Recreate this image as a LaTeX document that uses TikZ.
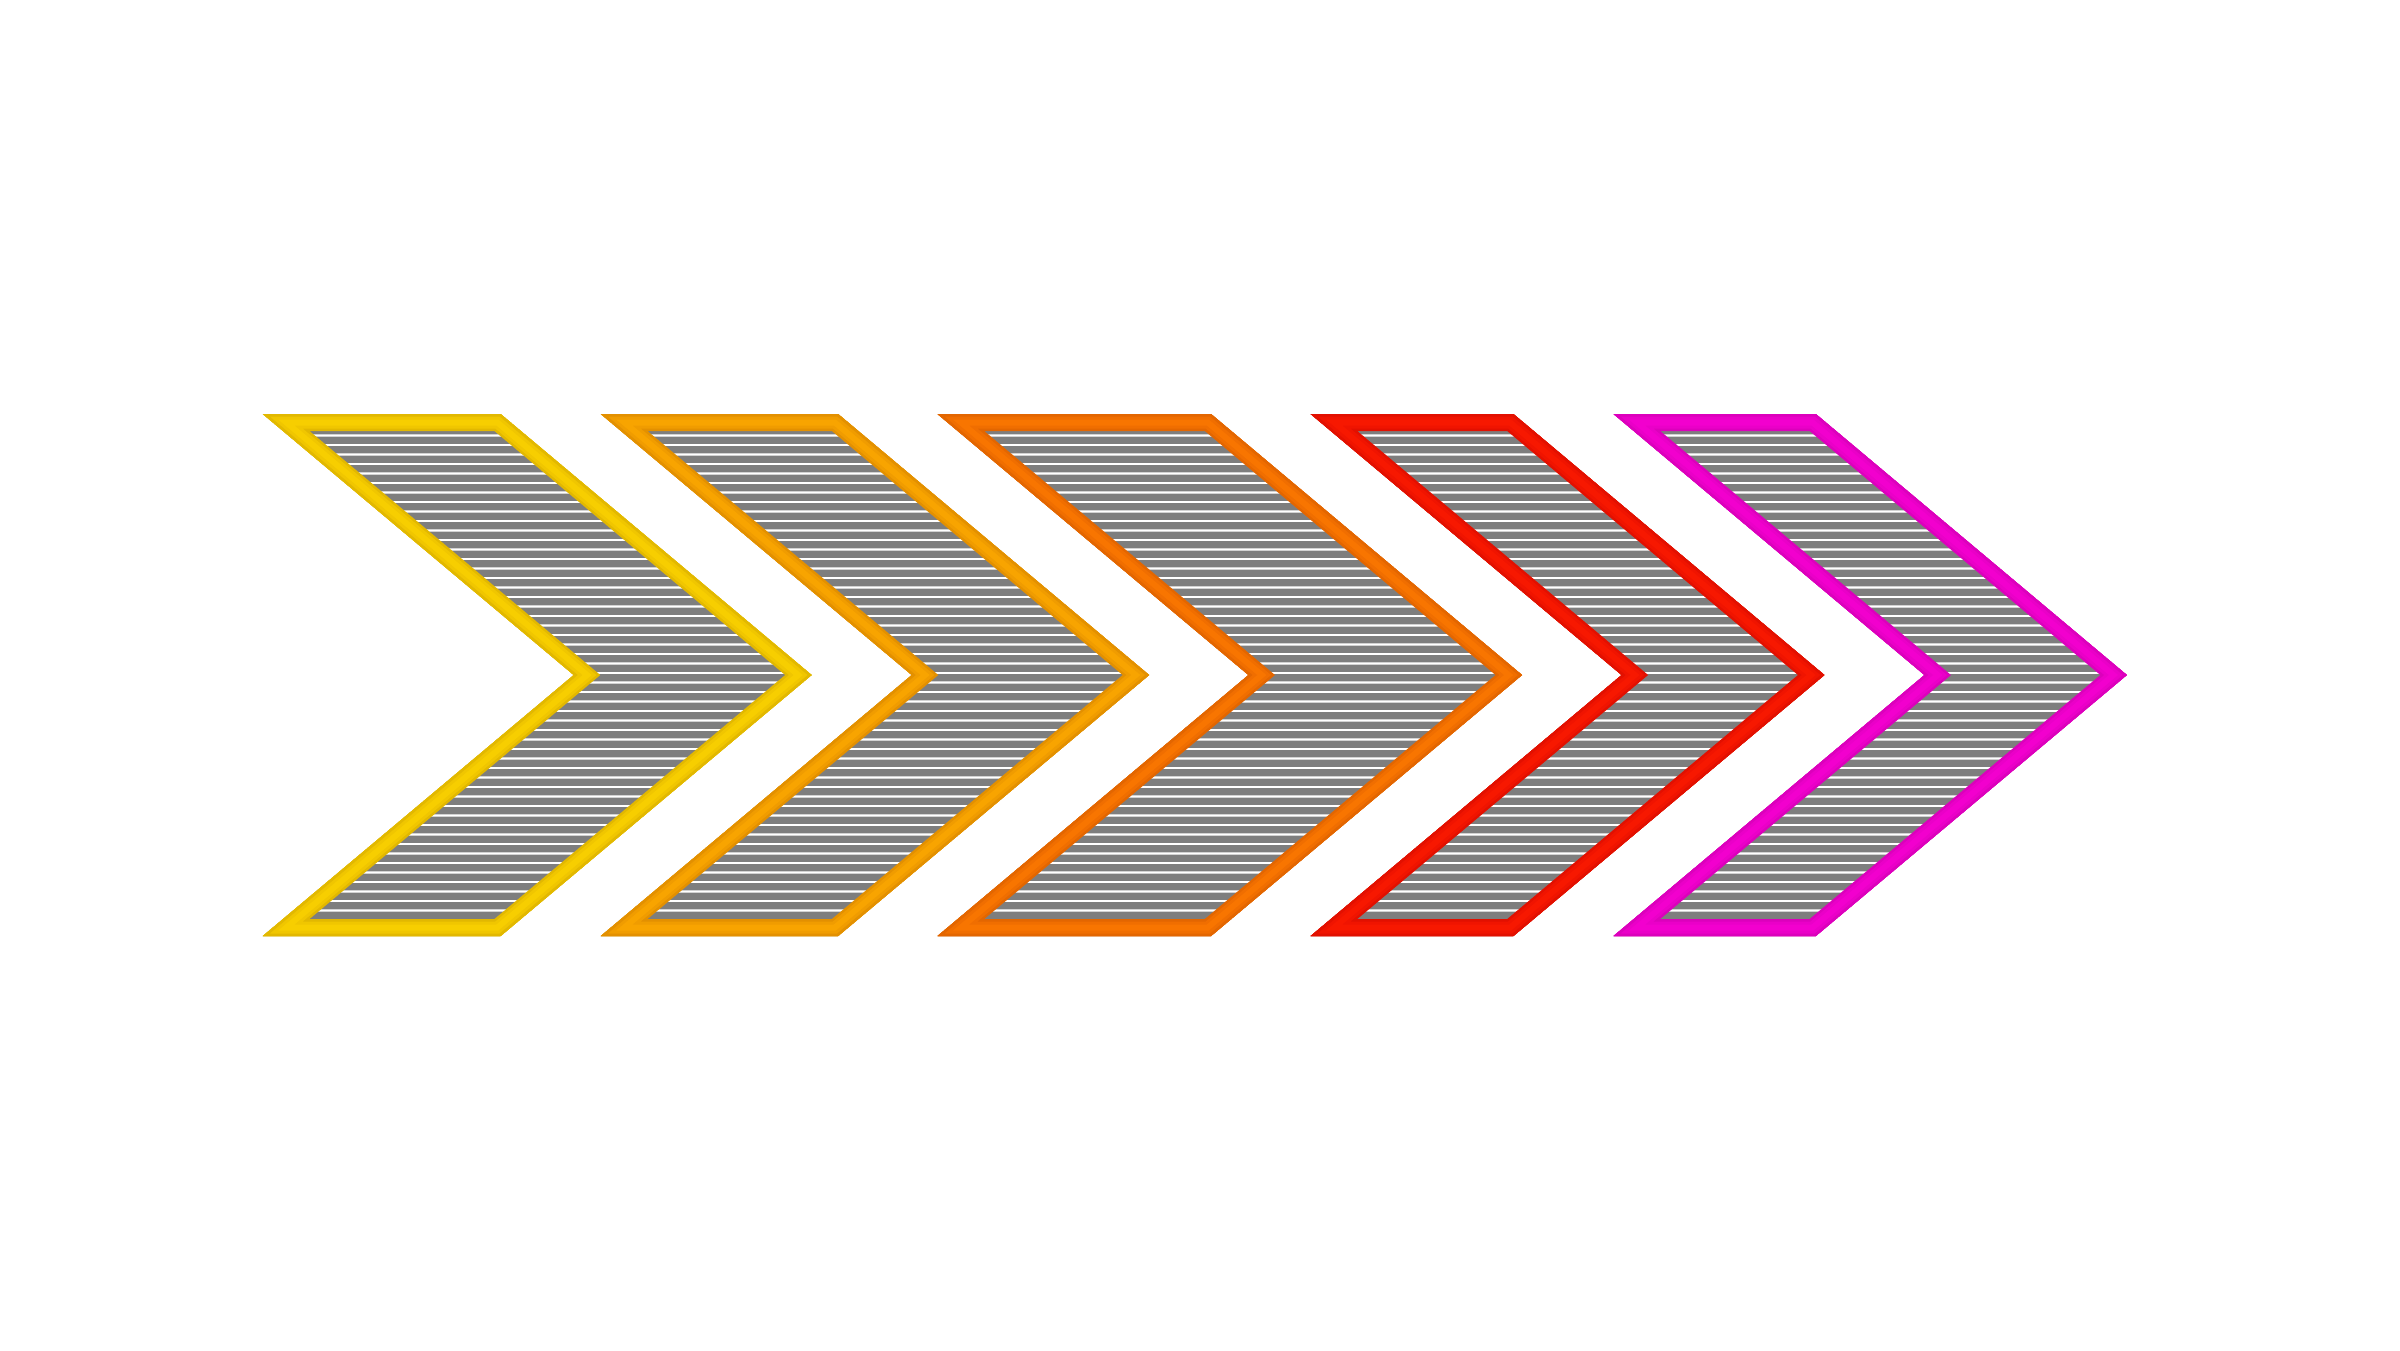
\documentclass[tikz,border=0pt]{standalone}
\definecolor{c1}{HTML}{F7CE00}\definecolor{c1m}{HTML}{F0C600}\definecolor{c1d}{HTML}{E2B800}
\definecolor{c2}{HTML}{F8A400}\definecolor{c2m}{HTML}{F09C00}\definecolor{c2d}{HTML}{E39000}
\definecolor{c3}{HTML}{F87500}\definecolor{c3m}{HTML}{F06E00}\definecolor{c3d}{HTML}{E36600}
\definecolor{c4}{HTML}{F71800}\definecolor{c4m}{HTML}{F01400}\definecolor{c4d}{HTML}{E21000}
\definecolor{c5}{HTML}{F200CE}\definecolor{c5m}{HTML}{EA00C8}\definecolor{c5d}{HTML}{DC00BC}
\definecolor{hatchgray}{HTML}{7E7E7E}
\tikzset{
  stripe/.style={draw=white, line width=0.016cm},
  stripehalo/.style={draw=hatchgray!35, line width=0.028cm},
  band/.style={line join=miter},
}
\newcommand\chevpath{(\L,414) -- ++(\W,0) -- ++(311,261) -- ++(-311,261) -- ++(-\W,0) -- ++(311,-261) -- cycle}
\begin{document}
\begin{tikzpicture}[x=0.01cm,y=-0.01cm]
\useasboundingbox[fill=white] (0,0) rectangle (2400,1350);
\foreach \L/\W/\cn in {262.8/237.8/1, 600.8/237.3/2, 937.5/273.5/3, 1310.6/202.8/4, 1613.5/202.3/5}{
  \begin{scope}
    \clip \chevpath;
    \fill[hatchgray] \chevpath;
    \foreach \k in {0,...,52}{
      \draw[stripehalo] (\L-10, 435.5+9.5*\k) -- ++(\W+340, 0);
      \draw[stripe] (\L-10, 435.5+9.5*\k) -- ++(\W+340, 0);
    }
    \draw[band, line width=0.34cm, draw=c\cn d] \chevpath;
    \draw[band, line width=0.29cm, draw=c\cn m] \chevpath;
    \draw[band, line width=0.23cm, draw=c\cn] \chevpath;
    \draw[band, line width=0.11cm, draw=c\cn m] \chevpath;
    \draw[band, line width=0.05cm, draw=c\cn d] \chevpath;
  \end{scope}
}
\end{tikzpicture}
\end{document}
